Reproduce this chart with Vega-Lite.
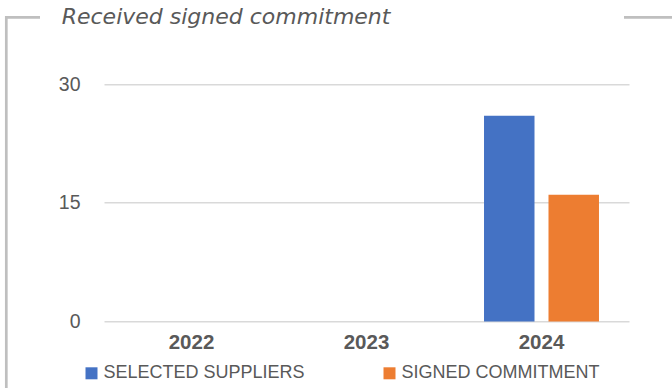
{
  "$schema": "https://vega.github.io/schema/vega-lite/v6.json",
  "width": 665.7,
  "height": 370.7,
  "autosize": {"type": "none"},
  "padding": {"left": 6.3, "top": 17.3, "right": 0, "bottom": 0},
  "background": "white",
  "view": {"stroke": "#BFBFBF", "strokeWidth": 2.7, "strokeDash": [33.7, 584, 48, 1036.4, 400]},
  "title": {
    "text": "Received signed commitment",
    "anchor": "start",
    "frame": "group",
    "font": "DejaVu Sans",
    "fontStyle": "italic",
    "fontWeight": "normal",
    "fontSize": 22,
    "color": "#595959",
    "baseline": "middle",
    "offset": 1.5,
    "dx": 55.4,
    "dy": 23
  },
  "data": {
    "values": [
      {"year": "2022", "series": "SELECTED SUPPLIERS", "value": 0},
      {"year": "2022", "series": "SIGNED COMMITMENT", "value": 0},
      {"year": "2023", "series": "SELECTED SUPPLIERS", "value": 0},
      {"year": "2023", "series": "SIGNED COMMITMENT", "value": 0},
      {"year": "2024", "series": "SELECTED SUPPLIERS", "value": 26},
      {"year": "2024", "series": "SIGNED COMMITMENT", "value": 16}
    ]
  },
  "mark": {"type": "bar"},
  "encoding": {
    "x": {
      "field": "year",
      "type": "nominal",
      "sort": ["2022", "2023", "2024"],
      "scale": {"range": [97.7, 622.7], "paddingInner": 0.343, "paddingOuter": 0.1715},
      "axis": {
        "title": null,
        "orient": "bottom",
        "offset": -66.5,
        "labelAngle": 0,
        "labelFont": "Liberation Sans",
        "labelFontWeight": "bold",
        "labelFontSize": 20.5,
        "labelColor": "#595959",
        "labelPadding": 11,
        "ticks": false,
        "domain": false,
        "grid": false
      }
    },
    "xOffset": {
      "field": "series",
      "type": "nominal",
      "sort": ["SELECTED SUPPLIERS", "SIGNED COMMITMENT"],
      "scale": {"paddingInner": 0.217, "paddingOuter": 0}
    },
    "y": {
      "field": "value",
      "type": "quantitative",
      "scale": {"domain": [0, 30], "range": [304.2, 66.7], "nice": false},
      "axis": {
        "title": null,
        "values": [0, 15, 30],
        "offset": -97.7,
        "ticks": false,
        "domain": false,
        "labelPadding": 24,
        "labelFont": "Liberation Sans",
        "labelFontSize": 19.5,
        "labelColor": "#595959",
        "grid": true,
        "gridColor": "#D9D9D9",
        "gridWidth": 1.4
      }
    },
    "color": {
      "field": "series",
      "type": "nominal",
      "scale": {"domain": ["SELECTED SUPPLIERS", "SIGNED COMMITMENT"], "range": ["#4472C4", "#ED7D31"]},
      "legend": {
        "title": null,
        "orient": "none",
        "legendX": 76.2,
        "legendY": 347,
        "direction": "horizontal",
        "columns": 2,
        "padding": 0,
        "symbolType": "square",
        "symbolSize": 144,
        "symbolStrokeWidth": 0,
        "labelFont": "Liberation Sans",
        "labelFontSize": 18,
        "labelColor": "#595959",
        "labelOffset": 3,
        "labelLimit": 400,
        "columnPadding": 75
      }
    }
  }
}
